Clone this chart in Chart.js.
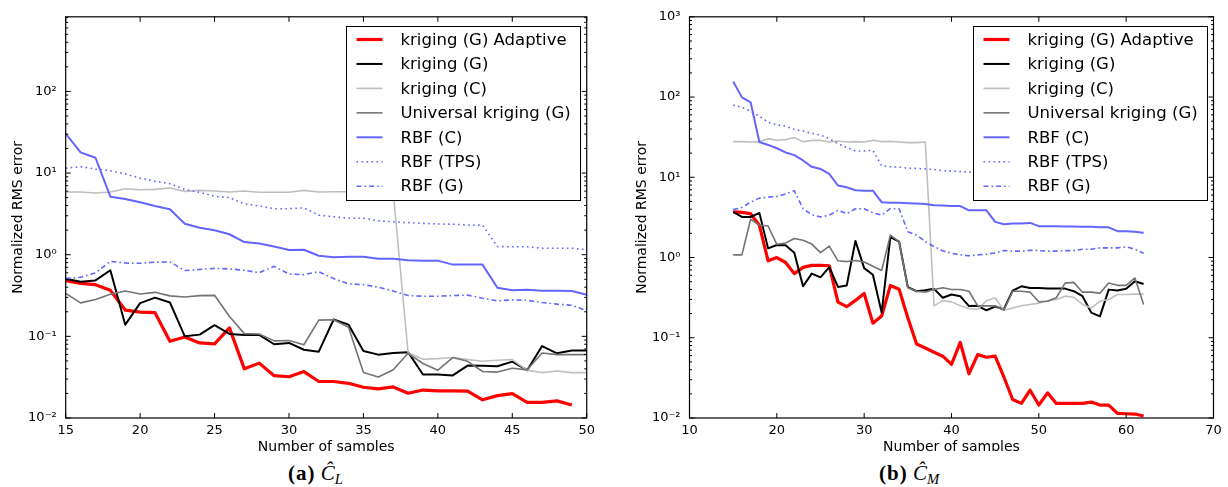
<!DOCTYPE html>
<html>
<head>
<meta charset="utf-8">
<script src="https://cdn.jsdelivr.net/npm/chart.js@4.4.1/dist/chart.umd.min.js"></script>
<style>
  html, body { margin: 0; padding: 0; background: #fff; width: 1228px; height: 487px; overflow: hidden; }
  .panel { position: absolute; top: 0; height: 451px; overflow: hidden; }
  .panel canvas { display: block; }
  .cap { position: absolute; top: 461px; font-family: 'Liberation Serif', 'DejaVu Serif', serif; font-size: 21px; line-height: 24px; white-space: nowrap; color: #000; }
  .cap b { letter-spacing: 1px; }
  .cap i sub { font-size: 0.7em; vertical-align: -0.3em; line-height: 0; }
</style>
</head>
<body>
<div class="panel" style="left:0px;width:600px;"><canvas id="chartA" width="600" height="470"></canvas></div>
<div class="panel" style="left:624px;width:604px;"><canvas id="chartB" width="604" height="470"></canvas></div>
<div class="cap" style="left:288px;"><b>(a)</b> <i>Ĉ<sub>L</sub></i></div>
<div class="cap" style="left:879px;"><b>(b)</b> <i>Ĉ<sub>M</sub></i></div>

<script>
// ---- number of samples (x values) ----
const samplesA = [15,16,17,18,19,20,21,22,23,24,25,26,27,28,29,30,31,32,33,34,35,36,37,38,39,40,41,42,43,44,45,46,47,48,49,50];
const samplesB = [15,16,17,18,19,20,21,22,23,24,25,26,27,28,29,30,31,32,33,34,35,36,37,38,39,40,41,42,43,44,45,46,47,48,49,50,51,52,53,54,55,56,57,58,59,60,61,62];

// ---- series labels ----
const seriesNames = ['kriging (G) Adaptive', 'kriging (G)', 'kriging (C)', 'Universal kriging (G)', 'RBF (C)', 'RBF (TPS)', 'RBF (G)'];

// ---- (a) C_L : normalized RMS error ----
const krigGAdaptiveA = [0.48,0.445,0.43,0.366,0.21,0.198,0.195,0.087,0.098,0.083,0.081,0.127,0.040,0.047,0.033,0.032,0.037,0.028,0.028,0.0266,0.0238,0.0227,0.024,0.0201,0.022,0.0215,0.0215,0.0213,0.0167,0.0188,0.0199,0.0155,0.0155,0.0162,0.0144];
const krigGA = [0.507,0.466,0.484,0.646,0.139,0.255,0.298,0.26,0.1,0.105,0.137,0.107,0.104,0.104,0.08,0.083,0.0686,0.0649,0.161,0.139,0.066,0.0597,0.0625,0.064,0.0341,0.034,0.0332,0.0439,0.0437,0.043,0.049,0.0385,0.076,0.062,0.0673,0.0673];
const krigCA = [5.86,5.86,5.7,5.86,6.43,6.25,6.31,6.55,5.97,6.14,6.03,5.86,6.03,5.81,5.81,5.81,6.14,5.86,5.9,5.9,5.95,5.9,5.9,0.063,0.0524,0.0533,0.055,0.052,0.0495,0.051,0.052,0.0383,0.036,0.0376,0.036,0.036];
const uKrigGA = [0.336,0.257,0.282,0.327,0.36,0.33,0.346,0.313,0.304,0.315,0.318,0.175,0.108,0.107,0.088,0.089,0.0789,0.158,0.16,0.129,0.0361,0.0317,0.0389,0.062,0.0465,0.0385,0.055,0.0495,0.0371,0.0365,0.0407,0.0389,0.0625,0.0597,0.0597,0.0597];
const rbfCA = [30.4,17.9,15.4,5.13,4.8,4.38,3.95,3.6,2.4,2.14,1.99,1.78,1.43,1.37,1.26,1.14,1.15,0.97,0.93,0.946,0.946,0.89,0.89,0.853,0.846,0.846,0.756,0.756,0.756,0.394,0.366,0.373,0.363,0.363,0.36,0.324];
const rbfTPSA = [11.5,12.0,11.2,10.7,9.77,8.65,7.94,7.4,6.3,5.8,5.2,5.0,4.2,3.95,3.66,3.66,3.75,3.05,2.92,2.8,2.8,2.6,2.53,2.47,2.42,2.38,2.36,2.31,2.3,1.26,1.25,1.25,1.2,1.2,1.2,1.15];
const rbfGA = [0.51,0.53,0.6,0.83,0.79,0.785,0.81,0.815,0.64,0.66,0.68,0.67,0.645,0.6,0.72,0.58,0.57,0.62,0.51,0.44,0.43,0.40,0.36,0.316,0.31,0.31,0.316,0.32,0.293,0.272,0.28,0.276,0.26,0.248,0.24,0.206];

// ---- (b) C_M : normalized RMS error ----
const krigGAdaptiveB = [3.7,3.65,3.52,2.53,0.91,1.0,0.867,0.63,0.753,0.797,0.797,0.79,0.278,0.244,0.292,0.356,0.152,0.187,0.447,0.403,0.178,0.0836,0.0745,0.0659,0.0589,0.0465,0.0875,0.0356,0.0616,0.0571,0.059,0.0324,0.017,0.0152,0.0222,0.0145,0.0206,0.0152,0.0152,0.0152,0.0152,0.0158,0.0145,0.0145,0.0114,0.0113,0.0112,0.0106];
const krigGB = [3.7,3.2,3.2,3.6,1.3,1.43,1.42,1.15,0.438,0.63,0.566,0.76,0.43,0.447,1.61,0.738,0.61,0.206,1.8,1.58,0.427,0.38,0.39,0.407,0.315,0.346,0.33,0.248,0.25,0.22,0.245,0.227,0.387,0.438,0.418,0.418,0.41,0.41,0.41,0.38,0.33,0.206,0.185,0.398,0.387,0.407,0.506,0.468];
const krigCB = [27.8,27.8,27.5,27.8,30.3,29,29.5,31.2,27.8,28.8,29,27.5,28.3,27.5,27.8,27.5,29,27.8,28,27.5,27,27,27.5,0.25,0.29,0.28,0.25,0.232,0.226,0.29,0.315,0.22,0.235,0.25,0.26,0.27,0.29,0.3,0.33,0.32,0.26,0.235,0.285,0.3,0.346,0.346,0.35,0.35];
const uKrigGB = [1.08,1.08,3.0,2.53,2.47,1.46,1.52,1.73,1.64,1.47,1.15,1.39,0.91,0.89,0.92,0.88,0.78,0.69,1.9,1.58,0.42,0.38,0.37,0.4,0.42,0.4,0.4,0.38,0.25,0.25,0.25,0.22,0.38,0.38,0.37,0.281,0.285,0.315,0.48,0.49,0.37,0.37,0.36,0.48,0.45,0.45,0.556,0.26];
const rbfCB = [156,99,86,27.5,25.3,23,20.4,18.9,16.2,13.5,12.7,11,7.9,7.5,6.9,6.8,6.8,4.9,4.8,4.8,4.75,4.7,4.65,4.47,4.45,4.4,4.38,3.87,3.87,3.87,2.78,2.6,2.65,2.66,2.7,2.46,2.46,2.45,2.44,2.43,2.42,2.42,2.38,2.38,2.13,2.13,2.1,2.04];
const rbfTPSB = [79,74.5,66.5,57.7,48.6,45,43.4,39.5,37.7,35.3,33.6,30.3,26.3,23.5,21.3,21.3,21.7,13.9,13.5,13.4,13,12.9,12.7,12.5,12.1,12,11.8,11.6,11.4,11.3,11.1,11,10.9,10.8,10.6,10.5,10.4,10.3,10.2,10.1,10,9.9,9.8,9.7,9.6,9.5,9.4,9.3];
const rbfGB = [3.95,4.2,4.9,5.5,5.66,5.75,6.2,6.8,4.06,3.43,3.2,3.37,3.87,3.52,4.06,4.06,3.6,3.37,4.06,4.06,2.1,1.9,1.58,1.37,1.21,1.13,1.08,1.05,1.08,1.1,1.14,1.22,1.2,1.2,1.23,1.22,1.2,1.2,1.22,1.22,1.27,1.27,1.32,1.32,1.32,1.36,1.27,1.13];

// ---- y tick labels (powers of ten) ----
const yTickExponents = [-2, -1, 0, 1, 2, 3];

// line styles, in series order
const styles = [
  { color: '#ff0000', width: 3.2, dash: [] },
  { color: '#000000', width: 2,   dash: [] },
  { color: '#bfbfbf', width: 1.6, dash: [] },
  { color: '#747474', width: 1.6, dash: [] },
  { color: '#6464ff', width: 2,   dash: [] },
  { color: '#6464ff', width: 1.6, dash: [1.6, 3.4] },
  { color: '#6464ff', width: 1.6, dash: [5, 3, 1.6, 3] }
];

const SUP = { '-': '\u207B', '0': '\u2070', '1': '\u00B9', '2': '\u00B2', '3': '\u00B3' };
function powLabel(e) { return '10' + String(e).split('').map(c => SUP[c]).join(''); }

Chart.defaults.font.family = "'DejaVu Sans', 'Liberation Sans', sans-serif";
Chart.defaults.color = '#000';

// frame, inward tick marks and boxed legend
const axesDecor = {
  id: 'axesDecor',
  afterDatasetsDraw(chart) {
    const { ctx, chartArea: a } = chart;
    const xs = chart.scales.x, ys = chart.scales.y;
    ctx.save();
    ctx.strokeStyle = '#000';
    ctx.lineWidth = 1;
    ctx.setLineDash([]);
    ctx.beginPath();
    // x ticks, bottom and top
    xs.ticks.forEach(t => {
      const px = xs.getPixelForValue(t.value);
      ctx.moveTo(px, a.bottom); ctx.lineTo(px, a.bottom - 5);
      ctx.moveTo(px, a.top);    ctx.lineTo(px, a.top + 5);
    });
    // log y ticks, left and right
    for (let e = yTickExponents[0]; e <= yTickExponents[yTickExponents.length - 1]; e++) {
      for (let m = 1; m <= 9; m++) {
        const v = m * Math.pow(10, e);
        if (v < ys.min * 0.999 || v > ys.max * 1.001) continue;
        const py = ys.getPixelForValue(v);
        const len = m === 1 ? 5 : 2.5;
        ctx.moveTo(a.left, py);  ctx.lineTo(a.left + len, py);
        ctx.moveTo(a.right, py); ctx.lineTo(a.right - len, py);
      }
    }
    ctx.stroke();
    ctx.lineWidth = 1.2;
    ctx.strokeRect(a.left, a.top, a.right - a.left, a.bottom - a.top);

    // legend box
    const w = 234, h = 174;
    const x0 = Math.round(a.right - 7 - w) + 0.5, y0 = Math.round(a.top + 9) + 0.5;
    ctx.fillStyle = '#fff';
    ctx.fillRect(x0, y0, w, h);
    ctx.lineWidth = 1;
    ctx.strokeStyle = '#000';
    ctx.strokeRect(x0, y0, w, h);
    ctx.font = "16.5px 'DejaVu Sans'";
    ctx.textBaseline = 'middle';
    ctx.textAlign = 'left';
    chart.data.datasets.forEach((ds, i) => {
      const y = y0 + 13 + i * 24.45;
      ctx.beginPath();
      ctx.setLineDash(ds.borderDash || []);
      ctx.lineWidth = ds.borderWidth;
      ctx.strokeStyle = ds.borderColor;
      ctx.moveTo(x0 + 10, y); ctx.lineTo(x0 + 36, y);
      ctx.stroke();
      ctx.setLineDash([]);
      ctx.fillStyle = '#000';
      ctx.fillText(ds.label, x0 + 54, y + 1);
    });
    ctx.restore();
  }
};

function buildDatasets(samples, seriesValues) {
  return seriesValues.map((vals, i) => ({
    label: seriesNames[i],
    data: vals.map((v, k) => ({ x: samples[k], y: v })),
    borderColor: styles[i].color,
    borderWidth: styles[i].width,
    borderDash: styles[i].dash,
    borderJoinStyle: 'round',
    pointRadius: 0,
    fill: false,
    tension: 0,
    order: seriesValues.length - i
  }));
}

function makeChart(id, samples, seriesValues, xOpt, yMax, yAxisWidth, padRight) {
  return new Chart(document.getElementById(id), {
    type: 'line',
    data: { datasets: buildDatasets(samples, seriesValues) },
    options: {
      responsive: false,
      animation: false,
      events: [],
      layout: { padding: { top: 13, right: padRight, left: 0, bottom: 0 } },
      plugins: { legend: { display: false }, tooltip: { enabled: false } },
      scales: {
        x: {
          type: 'linear',
          min: xOpt.min, max: xOpt.max,
          grid: { display: false, drawTicks: false },
          border: { display: false },
          ticks: { stepSize: xOpt.step, padding: 5, font: { size: 13 }, maxRotation: 0, autoSkip: false },
          title: { display: true, text: 'Number of samples', font: { size: 14 }, padding: { top: 0, bottom: 14.6 } },
          afterFit(scale) { scale.height = 52; }
        },
        y: {
          type: 'logarithmic',
          min: 0.01, max: yMax,
          grid: { display: false, drawTicks: false },
          border: { display: false },
          ticks: {
            autoSkip: false, padding: 9, font: { size: 13 },
            callback(v) {
              const e = Math.log10(v), r = Math.round(e);
              return (Math.abs(e - r) < 1e-6 && yTickExponents.includes(r)) ? powLabel(r) : '';
            }
          },
          title: { display: true, text: 'Normalized RMS error', font: { size: 14 }, padding: { top: 10, bottom: 0 } },
          afterFit(scale) { scale.width = yAxisWidth; }
        }
      }
    },
    plugins: [axesDecor]
  });
}

makeChart('chartA', samplesA,
  [krigGAdaptiveA, krigGA, krigCA, uKrigGA, rbfCA, rbfTPSA, rbfGA],
  { min: 15, max: 50, step: 5 }, 820, 65.7, 11);

makeChart('chartB', samplesB,
  [krigGAdaptiveB, krigGB, krigCB, uKrigGB, rbfCB, rbfTPSB, rbfGB],
  { min: 10, max: 70, step: 10 }, 1000, 65.5, 14.5);
</script>
</body>
</html>
